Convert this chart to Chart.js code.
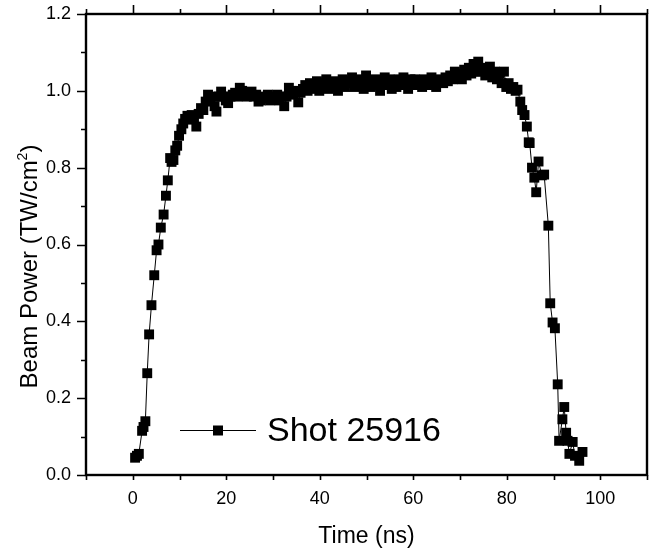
<!DOCTYPE html>
<html>
<head>
<meta charset="utf-8">
<script src="https://cdn.jsdelivr.net/npm/chart.js@4.4.0/dist/chart.umd.min.js"></script>
<style>
  html, body { margin: 0; padding: 0; background: #fff; }
  #wrap { width: 654px; height: 550px; }
</style>
</head>
<body>
<div id="wrap"><canvas id="chart" width="654" height="550"></canvas></div>
<script>
// =============================
// DATA
// =============================
const seriesLabel = "Shot 25916";

const timeNs = [
  0.5, 0.9, 1.3, 2.0, 2.3, 2.7, 3.1, 3.5, 4.0, 4.6, 5.1, 5.5, 6.0, 6.6, 7.1, 7.5,
  8.0, 8.3, 8.7, 9.1, 9.5, 9.9, 10.4, 10.8, 11.2, 11.7, 12.2, 12.6, 13.1, 13.6, 14.1, 14.6,
  15.1, 15.6, 16.1, 16.6, 17.1, 17.5, 17.9, 18.4, 18.9, 19.4, 19.9, 20.4, 20.9, 21.4, 21.9, 22.4,
  22.9, 23.4, 23.9, 24.4, 24.9, 25.4, 25.9, 26.4, 26.9, 27.4, 27.9, 28.4, 28.9, 29.4, 29.9, 30.4,
  30.9, 31.4, 31.9, 32.4, 32.9, 33.4, 33.9, 34.4, 34.9, 35.4, 35.9, 36.4, 36.9, 37.4, 37.9, 38.4,
  38.9, 39.4, 39.9, 40.4, 40.9, 41.4, 41.9, 42.4, 42.9, 43.4, 43.9, 44.4, 44.9, 45.4, 45.9, 46.4,
  46.9, 47.4, 47.9, 48.4, 48.9, 49.4, 49.9, 50.4, 50.9, 51.4, 51.9, 52.4, 52.9, 53.4, 53.9, 54.4,
  54.9, 55.4, 55.9, 56.4, 56.9, 57.4, 57.9, 58.4, 58.9, 59.4, 59.9, 60.4, 60.9, 61.4, 61.9, 62.4,
  62.9, 63.4, 63.9, 64.4, 64.9, 65.4, 65.9, 66.4, 66.9, 67.4, 67.9, 68.4, 68.9, 69.4, 69.9, 70.4,
  70.9, 71.4, 71.9, 72.4, 72.9, 73.4, 73.9, 74.4, 74.9, 75.4, 75.9, 76.4, 76.9, 77.4, 77.9, 78.4,
  78.9, 79.4, 79.9, 80.4, 80.9, 81.4, 81.9, 82.3, 82.9, 83.3, 83.8, 84.3, 84.7, 84.9, 85.4, 85.9,
  86.3, 86.8, 87.5, 88.0, 88.9, 89.3, 89.8, 90.3, 90.9, 91.2, 91.9, 92.3, 92.7, 93.0, 93.4, 94.1,
  94.6, 95.5, 96.2
];

const beamPower = [
  0.045, 0.050, 0.055, 0.115, 0.125, 0.140, 0.265, 0.366, 0.442, 0.520, 0.585, 0.600, 0.644, 0.678, 0.727, 0.767,
  0.825, 0.815, 0.820, 0.845, 0.857, 0.883, 0.900, 0.915, 0.927, 0.935, 0.925, 0.937, 0.930, 0.907, 0.940, 0.955,
  0.950, 0.972, 0.990, 0.975, 0.985, 0.960, 0.946, 0.985, 0.998, 0.985, 0.975, 0.968, 0.985, 0.990, 0.995, 0.985,
  1.008, 1.000, 0.990, 0.985, 0.995, 0.998, 0.985, 0.990, 0.972, 0.975, 0.985, 0.980, 0.990, 0.975, 0.985, 0.980,
  0.990, 0.975, 0.985, 0.960, 0.985, 1.008, 0.995, 0.990, 1.000, 0.970, 0.995, 1.005, 1.015, 1.000, 1.020, 1.005,
  1.010, 1.025, 1.000, 1.015, 1.020, 1.030, 1.005, 1.010, 1.025, 1.015, 1.000, 1.020, 1.030, 1.010, 1.020, 1.025,
  1.035, 1.010, 1.020, 1.030, 1.015, 1.005, 1.040, 1.020, 1.010, 1.025, 1.030, 1.015, 1.000, 1.025, 1.035, 1.015,
  1.030, 1.005, 1.020, 1.010, 1.030, 1.020, 1.035, 1.015, 1.005, 1.030, 1.020, 1.030, 1.015, 1.025, 1.010, 1.030,
  1.020, 1.015, 1.035, 1.025, 1.010, 1.025, 1.030, 1.020, 1.035, 1.025, 1.040, 1.030, 1.050, 1.035, 1.045, 1.030,
  1.055, 1.040, 1.060, 1.045, 1.070, 1.050, 1.076, 1.050, 1.060, 1.040, 1.055, 1.063, 1.035, 1.050, 1.030, 1.045,
  1.020, 1.050, 1.010, 1.020, 1.005, 1.010, 1.000, 1.003, 0.972, 0.950, 0.937, 0.907, 0.866, 0.864, 0.800, 0.774,
  0.736, 0.816, 0.780, 0.782, 0.649, 0.447, 0.397, 0.382, 0.236, 0.089, 0.145, 0.177, 0.110, 0.089, 0.055, 0.086,
  0.050, 0.037, 0.060
];

const xTickLabels = [0, 20, 40, 60, 80, 100];
const yTickLabels = [0.0, 0.2, 0.4, 0.6, 0.8, 1.0, 1.2];

// =============================
// PLUGINS
// =============================
const FONT = "'Liberation Sans', Arial, sans-serif";

// box around plot + outward major/minor ticks
const frameTicks = {
  id: "frameTicks",
  afterDraw(chart) {
    const { ctx, chartArea: a, scales: { x, y } } = chart;
    ctx.save();
    ctx.strokeStyle = "#000";
    ctx.lineWidth = 1.6;
    ctx.beginPath();

    for (let v = x.min; v <= x.max + 1e-6; v += 10) {
      const px = Math.round(x.getPixelForValue(v)) + 0.5;
      const major = xTickLabels.includes(Math.round(v));
      ctx.moveTo(px, a.bottom);
      ctx.lineTo(px, a.bottom + 5);
      ctx.moveTo(px, a.top);
      ctx.lineTo(px, a.top - (major ? 9 : 5));
    }
    for (let v = 0; v <= 1.2001; v += 0.1) {
      const py = Math.round(y.getPixelForValue(v)) + 0.5;
      const major = Math.round(v * 10) % 2 === 0;
      ctx.moveTo(a.left, py);
      ctx.lineTo(a.left - (major ? 9 : 5), py);
    }
    ctx.stroke();

    ctx.lineWidth = 2.4;
    ctx.strokeRect(a.left, a.top, a.right - a.left, a.bottom - a.top);
    ctx.restore();
  }
};

// y title with a real superscript
const yTitle = {
  id: "yTitle",
  afterDraw(chart) {
    const { ctx, chartArea: a } = chart;
    const main = "Beam Power (TW/cm";
    const sup = "2";
    const end = ")";
    ctx.save();
    ctx.fillStyle = "#000";
    ctx.textBaseline = "alphabetic";
    ctx.textAlign = "left";
    const big = "24px " + FONT, small = "14px " + FONT;
    ctx.font = big;
    const w1 = ctx.measureText(main).width;
    const w3 = ctx.measureText(end).width;
    ctx.font = small;
    const w2 = ctx.measureText(sup).width;
    const total = w1 + w2 + w3;
    const cy = (a.top + a.bottom) / 2 + 22;
    ctx.translate(37, cy + total / 2);
    ctx.rotate(-Math.PI / 2);
    ctx.font = big;
    ctx.fillText(main, 0, 0);
    ctx.font = small;
    ctx.fillText(sup, w1, -10);
    ctx.font = big;
    ctx.fillText(end, w1 + w2, 0);
    ctx.restore();
  }
};

// legend drawn inside the plot, lower left
const insideLegend = {
  id: "insideLegend",
  afterDraw(chart) {
    const { ctx, chartArea: a } = chart;
    const ly = a.top + 416;
    const x0 = a.left + 94, x1 = a.left + 170;
    const mx = (x0 + x1) / 2;
    ctx.save();
    ctx.strokeStyle = "#000";
    ctx.lineWidth = 1;
    ctx.beginPath();
    ctx.moveTo(x0, ly + 0.5);
    ctx.lineTo(x1, ly + 0.5);
    ctx.stroke();
    ctx.fillStyle = "#000";
    ctx.fillRect(mx - 5, ly - 4.5, 10, 10);
    ctx.font = "34px " + FONT;
    ctx.textBaseline = "middle";
    ctx.textAlign = "left";
    ctx.fillText(seriesLabel, x1 + 11, ly + 2);
    ctx.restore();
  }
};

// =============================
// CHART
// =============================
const points = timeNs.map((t, i) => ({ x: t, y: beamPower[i] }));

new Chart(document.getElementById("chart"), {
  type: "line",
  data: {
    datasets: [{
      label: seriesLabel,
      data: points,
      borderColor: "#000",
      borderWidth: 1,
      backgroundColor: "#000",
      pointStyle: "rect",
      pointRadius: 7,
      pointBorderWidth: 0,
      pointBackgroundColor: "#000",
      tension: 0,
      fill: false
    }]
  },
  options: {
    responsive: false,
    animation: false,
    layout: { padding: { top: 14, right: 2, left: 0, bottom: 0 } },
    plugins: {
      legend: { display: false },
      tooltip: { enabled: false }
    },
    scales: {
      x: {
        type: "linear",
        min: -10,
        max: 110,
        afterBuildTicks: s => { s.ticks = xTickLabels.map(v => ({ value: v })); },
        afterFit: s => { s.height = 75; s.paddingLeft = 0; s.paddingRight = 0; },
        grid: { display: false, drawTicks: false },
        border: { display: false },
        ticks: {
          padding: 13,
          color: "#000",
          font: { family: FONT, size: 18 },
          callback: v => String(v)
        },
        title: {
          display: true,
          text: "Time (ns)",
          color: "#000",
          font: { family: FONT, size: 23 },
          padding: { top: 0, bottom: 0 }
        }
      },
      y: {
        type: "linear",
        min: 0,
        max: 1.2,
        afterBuildTicks: s => { s.ticks = yTickLabels.map(v => ({ value: v })); },
        afterFit: s => { s.width = 86; s.paddingTop = 0; s.paddingBottom = 0; },
        grid: { display: false, drawTicks: false },
        border: { display: false },
        ticks: {
          padding: 15,
          color: "#000",
          font: { family: FONT, size: 18 },
          callback: v => v.toFixed(1)
        },
        title: { display: false }
      }
    }
  },
  plugins: [frameTicks, yTitle, insideLegend]
});
</script>
</body>
</html>
